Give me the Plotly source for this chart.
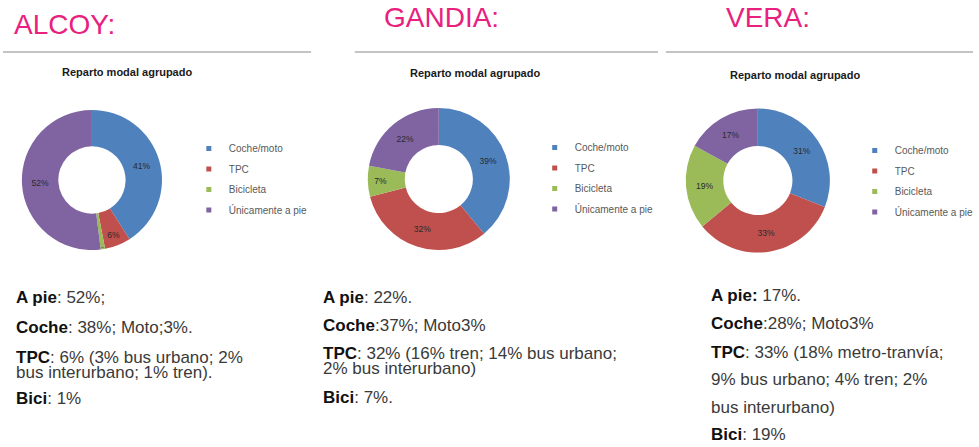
import plotly.graph_objects as go

W, H = 979, 447

# ---------------- data ----------------
CITIES = ["ALCOY:", "GANDIA:", "VERA:"]
CHART_TITLE = "Reparto modal agrupado"
MODES = ["Coche/moto", "TPC", "Bicicleta", "Únicamente a pie"]
ALCOY_VALUES = [41, 6, 1, 52]
GANDIA_VALUES = [39, 32, 7, 22]
VERA_VALUES = [31, 33, 19, 17]

ALCOY_NOTES = [
    ("A pie", ": 52%;"),
    ("Coche", ": 38%; Moto;3%."),
    ("TPC", ": 6% (3% bus urbano; 2%"),
    ("", "bus interurbano; 1% tren)."),
    ("Bici", ": 1%"),
]
GANDIA_NOTES = [
    ("A pie", ": 22%."),
    ("Coche", ":37%; Moto3%"),
    ("TPC", ": 32% (16% tren; 14% bus urbano;"),
    ("", "2% bus interurbano)"),
    ("Bici", ": 7%."),
]
VERA_NOTES = [
    ("A pie:", " 17%."),
    ("Coche", ":28%; Moto3%"),
    ("TPC", ": 33% (18% metro-tranvía;"),
    ("", "9% bus urbano; 4% tren; 2%"),
    ("", "bus interurbano)"),
    ("Bici", ": 19%"),
]

# ---------------- styles / layout ----------------
COLORS = ["#4F81BD", "#C0504D", "#9BBB59", "#8064A2"]
PINK = "#E8207E"

def px(x):
    return x / W

def py(y):
    return 1 - y / H

# per-city layout (pixels)
cfg = [
    dict(values=ALCOY_VALUES, notes=ALCOY_NOTES,
         title_xy=(12, 25, "left"), line=(3, 313), sub_xy=(128, 72),
         donut=(22, 163, 108, 252), legend_xy=(190, 134),
         notes_x=14, notes_y=[297, 327, 357, 372, 398]),
    dict(values=GANDIA_VALUES, notes=GANDIA_NOTES,
         title_xy=(444, 18, "center"), line=(357, 662), sub_xy=(478, 73),
         donut=(370, 513, 108, 250), legend_xy=(538, 133),
         notes_x=323, notes_y=[297, 325, 353, 368, 397]),
    dict(values=VERA_VALUES, notes=VERA_NOTES,
         title_xy=(773, 18, "center"), line=(670, 979), sub_xy=(800, 75),
         donut=(690, 835, 108, 253), legend_xy=(860, 136),
         notes_x=713, notes_y=[295, 323, 352, 379, 407, 434]),
]

fig = go.Figure()
annotations = []
shapes = []
legend_names = ["legend", "legend2", "legend3"]

for i, c in enumerate(cfg):
    x0, x1, y0, y1 = c["donut"]
    fig.add_trace(go.Pie(
        labels=MODES, values=c["values"], sort=False, direction="clockwise",
        rotation=0, hole=0.48,
        domain=dict(x=[px(x0), px(x1)], y=[py(y1), py(y0)]),
        marker=dict(colors=COLORS, line=dict(width=0)),
        texttemplate="%{value}%", textposition="inside",
        insidetextorientation="horizontal",
        textfont=dict(size=8.5, color="#2a2a2a", family="Liberation Sans"),
        showlegend=False, hoverinfo="label+value",
    ))
    # legend entries
    for k, (name, col) in enumerate(zip(MODES, COLORS)):
        fig.add_trace(go.Scatter(
            x=[None], y=[None], mode="markers", name=name,
            marker=dict(symbol="square", size=5, color=col),
            legend=legend_names[i], legendgroup=f"{i}-{k}", showlegend=True,
        ))
    lx, ly = c["legend_xy"]
    fig.layout[legend_names[i]] = dict(
        x=px(lx), y=py(ly), xanchor="left", yanchor="top",
        font=dict(size=10, color="#595959", family="Liberation Sans"),
        bgcolor="rgba(0,0,0,0)", itemsizing="trace", tracegroupgap=1.5,
    )
    # city title
    tx, ty, anc = c["title_xy"]
    annotations.append(dict(
        x=px(tx), y=py(ty), xref="paper", yref="paper", xanchor=anc,
        yanchor="middle", showarrow=False, text=CITIES[i],
        font=dict(size=28, color=PINK, family="Liberation Sans"),
    ))
    # separator line
    la, lb = c["line"]
    shapes.append(dict(type="line", xref="paper", yref="paper",
                       x0=px(la), x1=px(lb), y0=py(52), y1=py(52),
                       line=dict(color="#C4C4C4", width=2)))
    # chart subtitle
    sx, sy = c["sub_xy"]
    annotations.append(dict(
        x=px(sx), y=py(sy), xref="paper", yref="paper", xanchor="center",
        yanchor="middle", showarrow=False, text=f"<b>{CHART_TITLE}</b>",
        font=dict(size=11, color="#1a1a1a", family="Liberation Sans"),
    ))
    # notes
    for (b, r), yy in zip(c["notes"], c["notes_y"]):
        txt = (f"<b>{b}</b>" if b else "") + f"<span style='color:#3a3a3a'>{r}</span>"
        annotations.append(dict(
            x=px(c["notes_x"]), y=py(yy), xref="paper", yref="paper",
            xanchor="left", yanchor="middle", showarrow=False, text=txt,
            font=dict(size=17, color="#111111", family="Liberation Sans"),
        ))

fig.update_layout(
    width=W, height=H, margin=dict(l=0, r=0, t=0, b=0),
    paper_bgcolor="white", plot_bgcolor="white",
    xaxis=dict(visible=False), yaxis=dict(visible=False),
    annotations=annotations, shapes=shapes,
)

fig.write_html("out.html", config={"displayModeBar": False},
               post_script="document.body.style.margin='0px';")
